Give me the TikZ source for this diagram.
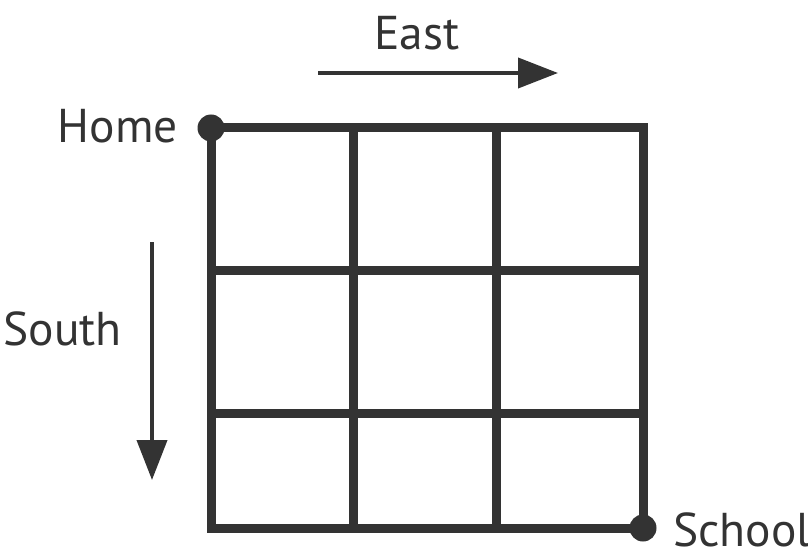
\documentclass[tikz,border=0pt]{standalone}
\usepackage{fontspec}
\setmainfont{PT Sans}
\usetikzlibrary{arrows.meta}
\definecolor{ink}{HTML}{333333}

\begin{document}
\begin{tikzpicture}[x=0.2mm, y=-0.2mm,
    every node/.style={text=ink, font=\fontsize{27}{32}\selectfont},
    street/.style={draw=ink, line width=1.8mm},
    spot/.style={circle, fill=ink, inner sep=0pt, minimum size=5.4mm},
    way/.style={draw=ink, line width=0.8mm, -{Triangle[length=8mm, width=6mm]}}]
  \useasboundingbox (0,0) rectangle (808,548);

  % streets
  \draw[street] (211,128) rectangle (643,528);
  \foreach \x in {353, 496}
    \draw[street] (\x,128) -- (\x,528);
  \foreach \y in {270, 413}
    \draw[street] (211,\y) -- (643,\y);

  % start and end
  \node[spot] (home) at (211,128) {};
  \node[spot] (school) at (643,528) {};
  \node[anchor=base east] (homelabel) at (184,143) {Home};
  \node[anchor=base west] (schoollabel) at (667,546) {School};

  % directions
  \coordinate (eastfrom) at (318,73);
  \coordinate (eastto) at (558,73);
  \draw[way] (eastfrom) -- (eastto);
  \node[anchor=base] (eastlabel) at (417,50) {East};

  \coordinate (southfrom) at (152,242);
  \coordinate (southto) at (152,480);
  \draw[way] (southfrom) -- (southto);
  \node[anchor=base east] (southlabel) at (128,345) {South};
\end{tikzpicture}
\end{document}
